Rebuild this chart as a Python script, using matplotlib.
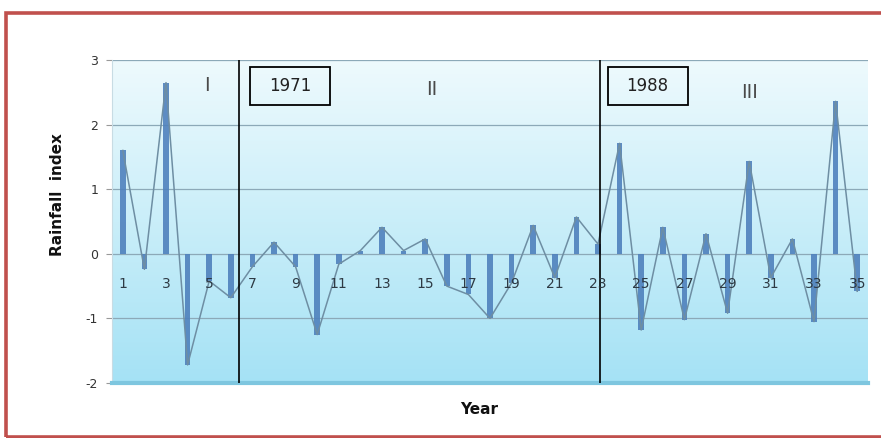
import matplotlib
matplotlib.use('Agg')
import matplotlib.pyplot as plt
import numpy as np
from matplotlib.colors import LinearSegmentedColormap
from matplotlib.patches import Rectangle

plt.rcParams['axes.unicode_minus'] = False

# ── Data ──────────────────────────────────────────────────────────────────────
years = list(range(1, 36))
rain_index = [1.60, -0.24, 2.65, -1.72, -0.42, -0.68, -0.20, 0.18, -0.20, -1.25,
              -0.16, 0.05, 0.41, 0.05, 0.23, -0.50, -0.63, -1.00, -0.45, 0.44,
              -0.37, 0.57, 0.15, 1.71, -1.18, 0.41, -1.02, 0.31, -0.92, 1.43,
              -0.37, 0.23, -1.05, 2.36, -0.58]
tick_years = [y for y in years if y % 2 == 1]
breaks = [6.4, 23.1]
break_labels = ['1971', '1988']
period_labels = ['I', 'II', 'III']
period_pos = [(4.9, 2.6), (15.3, 2.55), (30.0, 2.5)]
box_pos = [(8.74, 2.6), (25.3, 2.6)]

# ── Figure ────────────────────────────────────────────────────────────────────
fig = plt.figure(figsize=(8.81, 4.38), dpi=100)
fig.patch.set_facecolor('white')
fig.patches.append(Rectangle((6 / 881, 1 / 438), 0.999, 1 - 14 / 438,
                             transform=fig.transFigure, fill=False,
                             ec='#c0504d', lw=2.6))

ax = fig.add_axes([112 / 881, 1 - 383 / 438, 756 / 881, 323 / 438])
ax.set_xlim(0.5, 35.5)
ax.set_ylim(-2, 3)

# gradient background
cmap = LinearSegmentedColormap.from_list('bg', ['#a5e2f5', '#eefafd'])
grad = np.linspace(0, 1, 256).reshape(-1, 1)
ax.imshow(grad, extent=[0.5, 35.5, -2, 3], origin='lower', cmap=cmap,
          aspect='auto', zorder=0)

for yv in range(-2, 4):
    ax.axhline(yv, color='#8ca9b8', lw=0.9, zorder=1)

ax.bar(years, rain_index, width=0.26, color='#4f81bd', alpha=0.9, zorder=3)
ax.plot(years, rain_index, color='#6e8ea3', lw=1.1, zorder=4)

for xb in breaks:
    ax.axvline(xb, color='black', lw=1.2, zorder=5)

for t in tick_years:
    ax.text(t, -0.47, str(t), ha='center', va='center', fontsize=10,
            color='#2e3a44', zorder=6)

for lab, (xp, yp) in zip(period_labels, period_pos):
    ax.text(xp, yp, lab, ha='center', va='center', fontsize=14,
            color='#4a4a4a', zorder=6)

# boxed year markers (box ~80x38 px)
bw, bh = 3.7, 0.59
for lab, (xp, yp) in zip(break_labels, box_pos):
    ax.add_patch(Rectangle((xp - bw / 2, yp - bh / 2), bw, bh, fill=False,
                           ec='black', lw=1.3, zorder=6))
    ax.text(xp, yp, lab, ha='center', va='center', fontsize=12,
            color='#222222', zorder=6)

ax.set_xticks([])
ax.set_yticks(range(-2, 4))
ax.tick_params(axis='y', length=4, color='#999999', labelsize=9,
               labelcolor='#333333', pad=6)
for s in ('top', 'right'):
    ax.spines[s].set_visible(False)
ax.spines['bottom'].set_color('#7ec6df')
ax.spines['bottom'].set_linewidth(3)
ax.spines['left'].set_color('#c8dce4')

fig.text(58 / 881, 1 - 195 / 438, 'Rainfall  index', rotation=90,
         ha='center', va='center', fontsize=11, fontweight='bold', color='#111111')
fig.text(479 / 881, 1 - 410 / 438, 'Year', ha='center', va='center',
         fontsize=11, fontweight='bold', color='#111111')

fig.savefig('out.png', dpi=100)
